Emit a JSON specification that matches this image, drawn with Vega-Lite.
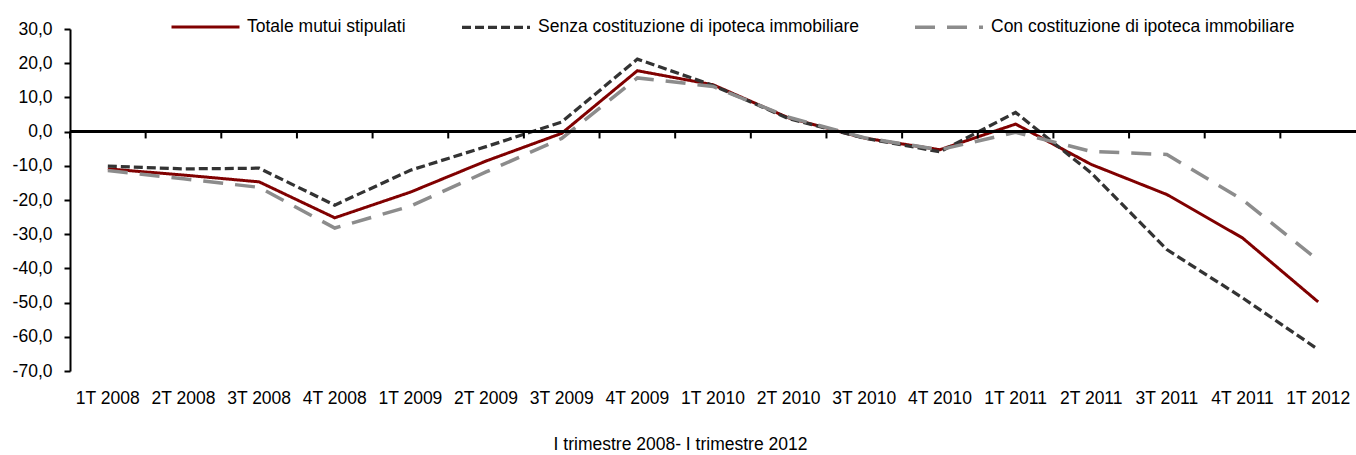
{
  "$schema": "https://vega.github.io/schema/vega-lite/v6.json",
  "width": 1286,
  "height": 342,
  "autosize": {"type": "none"},
  "padding": {"left": 70, "right": 0, "top": 29, "bottom": 84},
  "background": "white",
  "config": {
    "view": {"stroke": null},
    "font": "Liberation Sans",
    "axis": {"labelFont": "Liberation Sans", "titleFont": "Liberation Sans", "labelColor": "#000000", "titleColor": "#000000"},
    "legend": {"labelFont": "Liberation Sans"}
  },
  "resolve": {"axis": {"x": "independent"}},
  "datasets": {
    "periods": [
      {"period": "1T 2008"}, {"period": "2T 2008"}, {"period": "3T 2008"}, {"period": "4T 2008"},
      {"period": "1T 2009"}, {"period": "2T 2009"}, {"period": "3T 2009"}, {"period": "4T 2009"},
      {"period": "1T 2010"}, {"period": "2T 2010"}, {"period": "3T 2010"}, {"period": "4T 2010"},
      {"period": "1T 2011"}, {"period": "2T 2011"}, {"period": "3T 2011"}, {"period": "4T 2011"},
      {"period": "1T 2012"}
    ]
  },
  "data": {
    "values": [
      {"period": "1T 2008", "series": "Totale mutui stipulati", "value": -10.9},
      {"period": "2T 2008", "series": "Totale mutui stipulati", "value": -12.7},
      {"period": "3T 2008", "series": "Totale mutui stipulati", "value": -14.7},
      {"period": "4T 2008", "series": "Totale mutui stipulati", "value": -25.2},
      {"period": "1T 2009", "series": "Totale mutui stipulati", "value": -17.7},
      {"period": "2T 2009", "series": "Totale mutui stipulati", "value": -8.6},
      {"period": "3T 2009", "series": "Totale mutui stipulati", "value": -0.5},
      {"period": "4T 2009", "series": "Totale mutui stipulati", "value": 17.8},
      {"period": "1T 2010", "series": "Totale mutui stipulati", "value": 13.7},
      {"period": "2T 2010", "series": "Totale mutui stipulati", "value": 4.0},
      {"period": "3T 2010", "series": "Totale mutui stipulati", "value": -1.9},
      {"period": "4T 2010", "series": "Totale mutui stipulati", "value": -5.3},
      {"period": "1T 2011", "series": "Totale mutui stipulati", "value": 2.2},
      {"period": "2T 2011", "series": "Totale mutui stipulati", "value": -9.6},
      {"period": "3T 2011", "series": "Totale mutui stipulati", "value": -18.4},
      {"period": "4T 2011", "series": "Totale mutui stipulati", "value": -31.1},
      {"period": "1T 2012", "series": "Totale mutui stipulati", "value": -49.8},
      {"period": "1T 2008", "series": "Senza costituzione di ipoteca immobiliare", "value": -10.1},
      {"period": "2T 2008", "series": "Senza costituzione di ipoteca immobiliare", "value": -10.9},
      {"period": "3T 2008", "series": "Senza costituzione di ipoteca immobiliare", "value": -10.7},
      {"period": "4T 2008", "series": "Senza costituzione di ipoteca immobiliare", "value": -21.5},
      {"period": "1T 2009", "series": "Senza costituzione di ipoteca immobiliare", "value": -11.3},
      {"period": "2T 2009", "series": "Senza costituzione di ipoteca immobiliare", "value": -4.4},
      {"period": "3T 2009", "series": "Senza costituzione di ipoteca immobiliare", "value": 2.8},
      {"period": "4T 2009", "series": "Senza costituzione di ipoteca immobiliare", "value": 21.2},
      {"period": "1T 2010", "series": "Senza costituzione di ipoteca immobiliare", "value": 13.5},
      {"period": "2T 2010", "series": "Senza costituzione di ipoteca immobiliare", "value": 3.8},
      {"period": "3T 2010", "series": "Senza costituzione di ipoteca immobiliare", "value": -1.9},
      {"period": "4T 2010", "series": "Senza costituzione di ipoteca immobiliare", "value": -5.9},
      {"period": "1T 2011", "series": "Senza costituzione di ipoteca immobiliare", "value": 5.6},
      {"period": "2T 2011", "series": "Senza costituzione di ipoteca immobiliare", "value": -12.1},
      {"period": "3T 2011", "series": "Senza costituzione di ipoteca immobiliare", "value": -34.5},
      {"period": "4T 2011", "series": "Senza costituzione di ipoteca immobiliare", "value": -48.6},
      {"period": "1T 2012", "series": "Senza costituzione di ipoteca immobiliare", "value": -63.7},
      {"period": "1T 2008", "series": "Con costituzione di ipoteca immobiliare", "value": -11.4},
      {"period": "2T 2008", "series": "Con costituzione di ipoteca immobiliare", "value": -13.8},
      {"period": "3T 2008", "series": "Con costituzione di ipoteca immobiliare", "value": -16.3},
      {"period": "4T 2008", "series": "Con costituzione di ipoteca immobiliare", "value": -28.2},
      {"period": "1T 2009", "series": "Con costituzione di ipoteca immobiliare", "value": -21.8},
      {"period": "2T 2009", "series": "Con costituzione di ipoteca immobiliare", "value": -11.8},
      {"period": "3T 2009", "series": "Con costituzione di ipoteca immobiliare", "value": -2.0},
      {"period": "4T 2009", "series": "Con costituzione di ipoteca immobiliare", "value": 15.7},
      {"period": "1T 2010", "series": "Con costituzione di ipoteca immobiliare", "value": 13.2},
      {"period": "2T 2010", "series": "Con costituzione di ipoteca immobiliare", "value": 4.2},
      {"period": "3T 2010", "series": "Con costituzione di ipoteca immobiliare", "value": -1.8},
      {"period": "4T 2010", "series": "Con costituzione di ipoteca immobiliare", "value": -5.3},
      {"period": "1T 2011", "series": "Con costituzione di ipoteca immobiliare", "value": -0.2},
      {"period": "2T 2011", "series": "Con costituzione di ipoteca immobiliare", "value": -5.8},
      {"period": "3T 2011", "series": "Con costituzione di ipoteca immobiliare", "value": -6.7},
      {"period": "4T 2011", "series": "Con costituzione di ipoteca immobiliare", "value": -19.9},
      {"period": "1T 2012", "series": "Con costituzione di ipoteca immobiliare", "value": -37.6}
    ]
  },
  "layer": [
    {
      "mark": {"type": "line", "strokeCap": "butt", "strokeJoin": "miter"},
      "encoding": {
        "x": {
          "field": "period", "type": "ordinal", "sort": null,
          "scale": {"type": "band", "paddingInner": 0, "paddingOuter": 0},
          "axis": {
            "orient": "bottom", "domain": false, "ticks": false, "tickSize": 0,
            "labelAngle": 0, "labelFontSize": 17.5, "labelPadding": 18,
            "grid": false,
            "title": "I trimestre 2008- I trimestre 2012",
            "titleFontSize": 17.5, "titleFontWeight": "normal", "titlePadding": 29,
            "titleX": 610
          }
        },
        "y": {
          "field": "value", "type": "quantitative",
          "scale": {"domain": [-70, 30], "nice": false, "zero": false},
          "axis": {
            "values": [-70, -60, -50, -40, -30, -20, -10, 0, 10, 20, 30],
            "tickCount": 11,
            "labelExpr": "replace(replace(format(datum.value, '.1f'), '.', ','), '\u2212', '-')",
            "labelOverlap": false, "labelBound": false,
            "labelFontSize": 17.5, "labelPadding": 12,
            "domain": true, "domainColor": "#000000", "domainWidth": 2,
            "ticks": true, "tickColor": "#000000", "tickWidth": 2, "tickSize": 6,
            "grid": false, "title": null
          }
        },
        "color": {
          "field": "series", "type": "nominal",
          "scale": {
            "domain": ["Totale mutui stipulati", "Senza costituzione di ipoteca immobiliare", "Con costituzione di ipoteca immobiliare"],
            "range": ["#800000", "#333333", "#8c8c8c"]
          },
          "legend": {
            "orient": "none", "direction": "horizontal", "title": null,
            "legendX": 100, "legendY": -38, "padding": 0,
            "symbolType": "stroke", "symbolSize": 4624, "symbolStrokeWidth": 3.5,
            "labelFontSize": 17.5, "labelOffset": 6, "columnPadding": 49,
            "labelLimit": 500
          }
        },
        "strokeDash": {
          "field": "series", "type": "nominal",
          "scale": {
            "domain": ["Totale mutui stipulati", "Senza costituzione di ipoteca immobiliare", "Con costituzione di ipoteca immobiliare"],
            "range": [[1, 0], [9, 4], [20, 12]]
          },
          "legend": {
            "orient": "none", "direction": "horizontal", "title": null,
            "legendX": 100, "legendY": -38, "padding": 0,
            "symbolType": "stroke", "symbolSize": 4624, "symbolStrokeWidth": 3.5,
            "labelFontSize": 17.5, "labelOffset": 6, "columnPadding": 49,
            "labelLimit": 500
          }
        },
        "strokeWidth": {
          "field": "series", "type": "nominal",
          "scale": {
            "domain": ["Totale mutui stipulati", "Senza costituzione di ipoteca immobiliare", "Con costituzione di ipoteca immobiliare"],
            "range": [3, 3.5, 4]
          },
          "legend": null
        }
      }
    },
    {
      "mark": {"type": "rule", "color": "#000000", "strokeWidth": 2},
      "encoding": {
        "y": {"datum": 0, "type": "quantitative"}
      }
    },
    {
      "data": {"name": "periods"},
      "mark": {"type": "rule", "color": "#000000", "strokeWidth": 2},
      "encoding": {
        "x": {"field": "period", "type": "ordinal", "sort": null, "bandPosition": 0, "axis": null},
        "y": {"datum": 0, "type": "quantitative"},
        "y2": {"datum": -2}
      }
    }
  ]
}
